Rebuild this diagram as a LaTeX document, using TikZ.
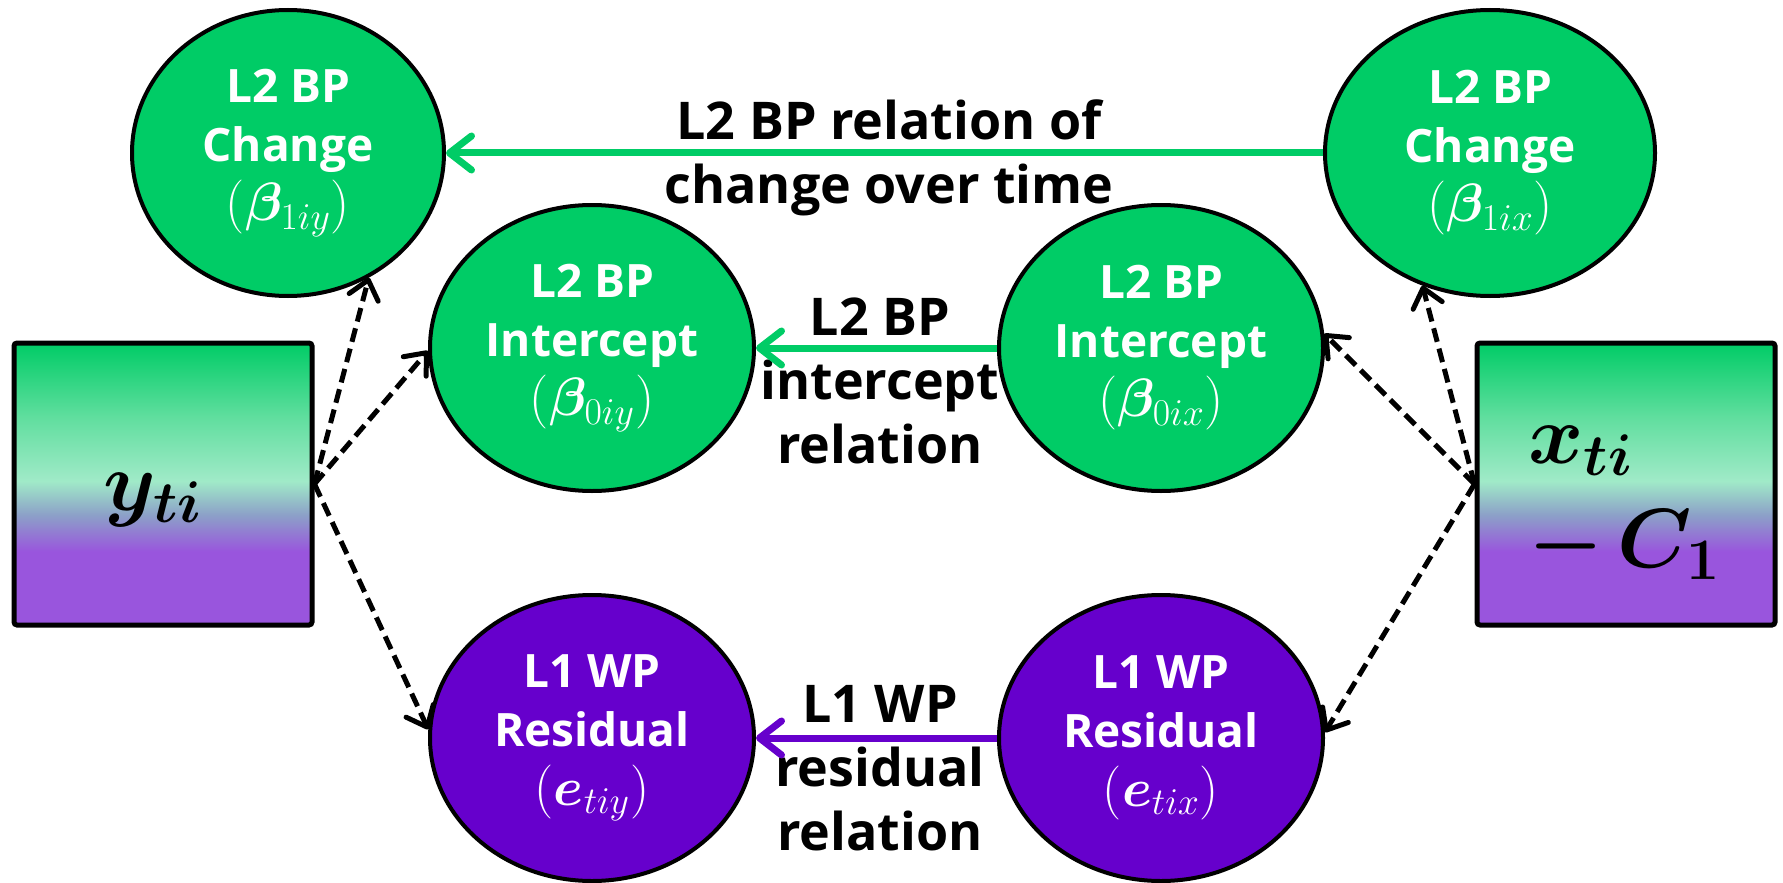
\RequirePackage{fix-cm}
\documentclass[tikz,border=0pt]{standalone}
\usepackage[no-math]{fontspec}
\setmainfont{Open Sans}
\usepackage{bm}
\usetikzlibrary{arrows.meta,shapes.geometric}

\definecolor{bpgreen}{RGB}{0,204,102}
\definecolor{wppurple}{RGB}{102,0,204}
\definecolor{boxpurple}{RGB}{153,85,221}
\definecolor{boxslate}{RGB}{140,160,200}
\definecolor{boxmint}{RGB}{160,234,200}
\definecolor{boxlight}{RGB}{95,222,158}

% vertical fade used by the two observed-variable boxes (bottom -> top)
\pgfdeclareverticalshading{boxfade}{100bp}{%
  color(0bp)=(boxpurple); color(38bp)=(boxpurple); color(44.5bp)=(boxslate);
  color(50.5bp)=(boxmint); color(62bp)=(boxlight); color(75bp)=(bpgreen);
  color(100bp)=(bpgreen)}

% symbol line inside a latent ellipse, set a little larger than the words
\newcommand\latentsym[1]{{\fontsize{27}{29.5}\selectfont$(#1)$}}

\begin{document}
\begin{tikzpicture}[x=0.5pt,y=-0.5pt,
  latent/.style={ellipse, draw=black, line width=2pt, text=white,
    font=\fontsize{23}{29.5}\selectfont\bfseries, align=center,
    minimum width=162pt, minimum height=143pt, inner sep=0pt},
  bpnode/.style={latent, fill=bpgreen},
  wpnode/.style={latent, fill=wppurple},
  varbox/.style={draw=black, line width=2.5pt, rounded corners=1.5pt,
    shade, shading=boxfade, minimum width=149pt, minimum height=141pt, inner sep=0pt},
  vartext/.style={font=\fontsize{42}{52}\selectfont, inner sep=0pt},
  rellabel/.style={font=\fontsize{26}{32}\selectfont\bfseries, align=center, inner sep=0pt},
  loading/.style={draw=black, line width=2.5pt, dash pattern=on 7pt off 3.5pt,
    -{Straight Barb[length=9pt,width=15pt,round]}},
  relarrow/.style={line width=3.5pt, -{Straight Barb[length=11pt,width=17pt,round]}}
]
\useasboundingbox (0,0) rectangle (1783,883);

% latent ellipses
\node[bpnode, minimum width=156pt] (cy) at (288,153) {L2 BP\\Change\\\latentsym{\bm{\beta}_{1iy}}};
\node[bpnode, minimum width=165pt] (cx) at (1490,153) {L2 BP\\Change\\\latentsym{\bm{\beta}_{1ix}}};
\node[bpnode] (iy) at (592,348) {L2 BP\\Intercept\\\latentsym{\bm{\beta}_{0iy}}};
\node[bpnode] (ix) at (1161,348) {L2 BP\\Intercept\\\latentsym{\bm{\beta}_{0ix}}};
\node[wpnode] (ey) at (592,738) {L1 WP\\Residual\\\latentsym{\bm{e}_{tiy}}};
\node[wpnode] (ex) at (1161,738) {L1 WP\\Residual\\\latentsym{\bm{e}_{tix}}};

% observed variables
\node[varbox] (ybox) at (163,484) {};
\node[varbox] (xbox) at (1626,484) {};
\node[vartext, anchor=base] (ytxt) at (153,510) {$\bm{y_{ti}}$};
\node[vartext, anchor=base west] (xtxt) at (1528,463) {$\bm{x_{ti}}$};
\node[vartext, anchor=base west] (ctxt) at (1528,567) {$\bm{-\,C_{1}}$};

% relation labels
\node[rellabel] (lchg) at (889,158) {L2 BP relation of\\change over time};
\node[rellabel] (lint) at (880,381) {L2 BP\\intercept\\relation};
\node[rellabel] (lres) at (880,768) {L1 WP\\residual\\relation};

% relations between the two series
\draw[relarrow, draw=bpgreen] (cx.west) -- (cy.east);
\draw[relarrow, draw=bpgreen] (ix.west) -- (iy.east);
\draw[relarrow, draw=wppurple] (ex.west) -- (ey.east);

% loadings of the observed variables
\draw[loading] (ybox.east) -- (cy.-57);
\draw[loading] (ybox.east) -- (iy.181);
\draw[loading] (ybox.east) -- (ey.177);
\draw[loading] (xbox.west) -- (cx.243);
\draw[loading] (xbox.west) -- (ix.5);
\draw[loading] (xbox.west) -- (ex.2);
\end{tikzpicture}
\end{document}
